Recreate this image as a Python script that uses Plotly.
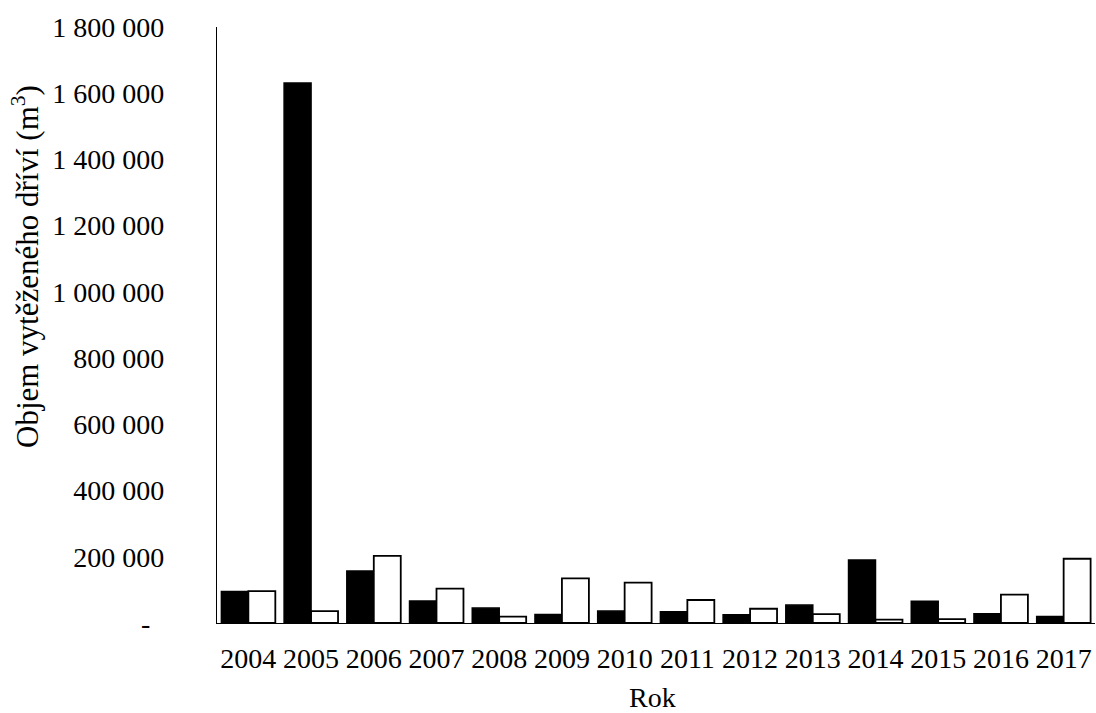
import plotly.graph_objects as go

years = ["2004", "2005", "2006", "2007", "2008", "2009", "2010",
         "2011", "2012", "2013", "2014", "2015", "2016", "2017"]
series_black = [95000, 1631000, 157000, 66500, 45000, 26000, 36000,
                34000, 25000, 54000, 190000, 65500, 28000, 20000]
series_white = [96000, 36000, 203000, 103600, 19000, 135000, 122000,
                69500, 43000, 27000, 10000, 12000, 85500, 194000]
y_tickvals = [0, 200000, 400000, 600000, 800000, 1000000, 1200000,
              1400000, 1600000, 1800000]
y_ticktext = ["-\u00a0\u00a0", "200 000", "400 000", "600 000", "800 000",
              "1 000 000", "1 200 000", "1 400 000", "1 600 000", "1 800 000"]

FONT = "Liberation Serif, Times New Roman, serif"
L, T, PW, PH = 217, 27, 878, 596

fig = go.Figure()
fig.add_trace(go.Bar(x=years, y=series_black, name="A",
                     marker=dict(color="black", line=dict(color="black", width=1.5))))
fig.add_trace(go.Bar(x=years, y=series_white, name="B",
                     marker=dict(color="white", line=dict(color="black", width=1.8))))

fig.update_layout(
    width=1096, height=713,
    margin=dict(l=L, r=1096 - L - PW, t=T, b=713 - T - PH),
    paper_bgcolor="white", plot_bgcolor="white",
    barmode="group", bargap=0.14, bargroupgap=0,
    showlegend=False,
    font=dict(family=FONT, size=28, color="black"),
    xaxis=dict(showline=True, linecolor="black", linewidth=1.3,
               ticks="", showgrid=False, zeroline=False,
               tickfont=dict(family=FONT, size=28, color="black"),
               ticklabelstandoff=10),
    yaxis=dict(range=[0, 1800000], showline=True, linecolor="black", linewidth=1.3,
               ticks="", showgrid=False, zeroline=False,
               tickvals=y_tickvals, ticktext=y_ticktext,
               tickfont=dict(family=FONT, size=28, color="black"),
               ticklabelstandoff=46),
    annotations=[
        dict(text="Objem vytěženého dříví (m<sup>3</sup>)", textangle=-90,
             xref="paper", yref="paper", x=(25 - L) / PW, y=(T + PH - 267) / PH,
             xanchor="center", yanchor="middle", showarrow=False,
             font=dict(family=FONT, size=31, color="black")),
        dict(text="Rok", xref="paper", yref="paper",
             x=(652 - L) / PW, y=(T + PH - 697) / PH,
             xanchor="center", yanchor="middle", showarrow=False,
             font=dict(family=FONT, size=28, color="black")),
    ],
)

fig.write_html("out.html", config={"displayModeBar": False},
               post_script="document.body.style.margin='0';")
